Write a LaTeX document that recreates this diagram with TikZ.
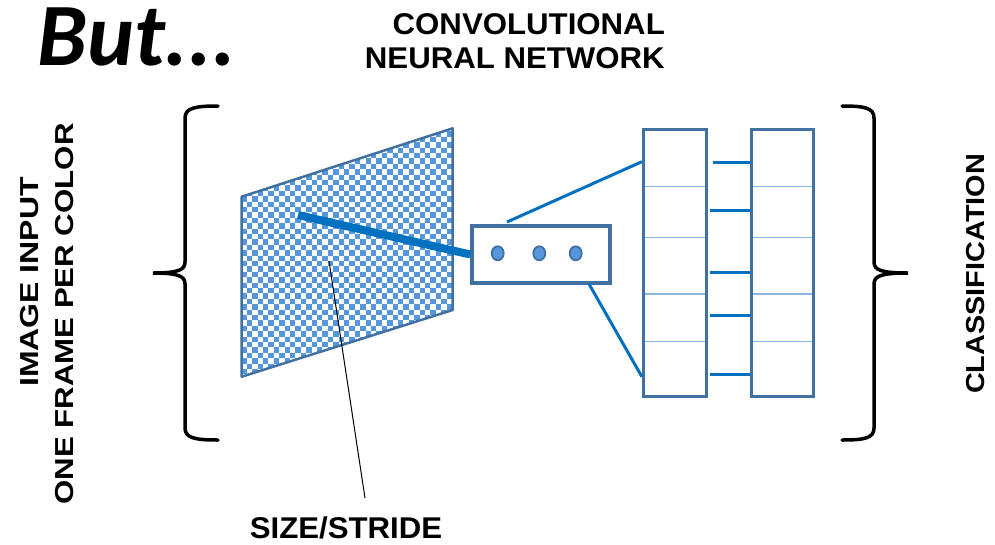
\documentclass[tikz,border=0pt]{standalone}
\usepackage{fontspec}
\usepackage{graphicx}
\setmainfont{Liberation Sans}
\newfontfamily\butfont{Carlito}
\usetikzlibrary{shapes.geometric,backgrounds}

\definecolor{edgeblue}{RGB}{65,113,160}
\definecolor{cellblue}{RGB}{86,150,218}
\definecolor{linkblue}{RGB}{0,112,192}
\definecolor{splitblue}{RGB}{143,182,224}

\tikzset{
  hdr/.style={font=\bfseries\fontsize{30}{32}\selectfont,inner sep=0pt},
  side/.style={font=\bfseries\fontsize{26}{28}\selectfont,inner sep=0pt,rotate=90,anchor=base},
  colbox/.style={draw=edgeblue,line width=3pt,inner sep=0pt},
  split/.style={splitblue,line width=1.2pt},
  link/.style={linkblue,line width=3pt},
  brace/.style={line width=3.5pt,line cap=round},
  dot/.style={ellipse,draw=edgeblue,fill=cellblue,line width=1.8pt,minimum width=12pt,minimum height=14pt,inner sep=0pt}
}

\begin{document}
\begin{tikzpicture}[x=1pt,y=-1pt]
  \useasboundingbox (0,0) rectangle (995,544);

  % titles
  \node[anchor=base west,inner sep=0pt] (but) at (37,65) {\butfont\bfseries\itshape\fontsize{89}{90}\selectfont But...};
  \node[hdr,anchor=base east] (cnn1) at (665,34) {\scalebox{1.04}[1]{CONVOLUTIONAL}};
  \node[hdr,anchor=base east] (cnn2) at (665,68) {\scalebox{1.04}[1]{NEURAL NETWORK}};

  % side labels
  \node[side] (input1) at (38,282) {\scalebox{1.23}[1]{IMAGE INPUT}};
  \node[side] (input2) at (73,314) {\scalebox{1.2}[1]{ONE FRAME PER COLOR}};
  \node[side] (classif) at (984,274) {\scalebox{1.11}[1]{CLASSIFICATION}};

  % braces
  \draw[brace] (218,106) .. controls (195,106) and (185,108) .. (185,118) -- (185,262)
    .. controls (185,270) and (178,273) .. (153,273) .. controls (178,273) and (185,276) .. (185,284)
    -- (185,428) .. controls (185,438) and (195,440) .. (218,440);
  \draw[brace] (842,106) .. controls (865,106) and (874,108) .. (874,118) -- (874,262)
    .. controls (874,270) and (881,273) .. (908,273) .. controls (881,273) and (874,276) .. (874,284)
    -- (874,428) .. controls (874,438) and (865,440) .. (842,440);

  % image plane
  \coordinate (p1) at (241.7,196.7);
  \coordinate (p2) at (452.7,128.3);
  \coordinate (p3) at (452.7,310);
  \coordinate (p4) at (241.7,376.7);
  \begin{scope}
    \clip (p1) -- (p2) -- (p3) -- (p4) -- cycle;
    \foreach \r in {0,...,46}
      \pgfmathsetmacro{\ph}{mod(\r,2)*5.4}
      \draw[cellblue,line width=5.4pt,dash pattern=on 5.4pt off 5.4pt,dash phase=\ph pt]
        (236,126+\r*5.4+2.7) -- (460,126+\r*5.4+2.7);
  \end{scope}
  \draw[edgeblue,line width=2.5pt,line join=round] (p1) -- (p2) -- (p3) -- (p4) -- cycle;

  % kernel
  \node[colbox,line width=3.5pt,minimum width=138pt,minimum height=57pt] (kernel) at (541,254.5) {};
  \foreach \x/\n in {497.7/a,539.3/b,575.7/c}
    \node[dot] (dot\n) at (\x,253.3) {};
  \coordinate (patch) at (298,215);
  \draw[linkblue,line width=8pt] (patch) -- (kernel.west);

  % layers
  \node[colbox,minimum width=62.7pt,minimum height=267.7pt] (lcol) at (674.7,262.9) {};
  \node[colbox,minimum width=62.3pt,minimum height=267.7pt] (rcol) at (782.2,262.9) {};
  \begin{scope}[on background layer]
    \foreach \y in {186.7,237.3,294,341.7} {
      \draw[split] (lcol.west |- 0,\y) -- (lcol.east |- 0,\y);
      \draw[split] (rcol.west |- 0,\y) -- (rcol.east |- 0,\y);
    }
  \end{scope}
  \coordinate (ktop) at (507,222);
  \coordinate (kbot) at (589,284);
  \draw[link] (ktop) -- (lcol.west |- 0,161.7);
  \draw[link] (kbot) -- (lcol.west |- 0,376.7);
  \foreach \y/\s in {162/712.7,210/710,272/710,315/710,374/710}
    \draw[link] (\s,\y) -- (rcol.west |- 0,\y);

  % size/stride
  \node[anchor=base,inner sep=0pt,font=\bfseries\fontsize{30}{32}\selectfont] (stride) at (346,538) {\scalebox{1.04}[1]{SIZE/STRIDE}};
  \coordinate (tip) at (329,261);
  \coordinate (foot) at (365,498);
  \draw[line width=1pt] (tip) -- (foot);
\end{tikzpicture}
\end{document}
